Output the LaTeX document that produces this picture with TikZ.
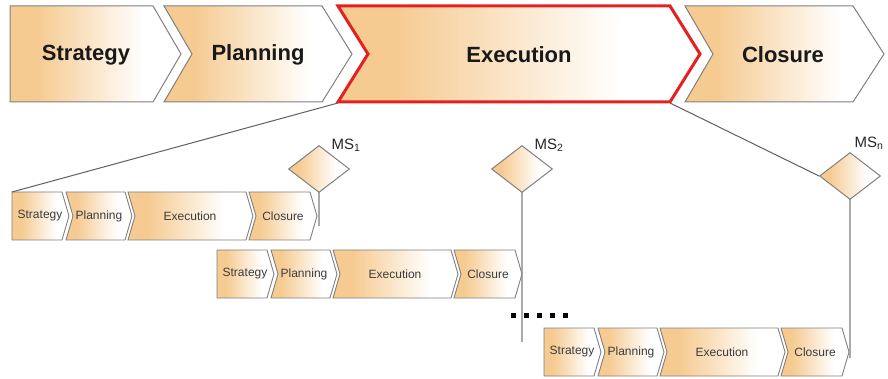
\documentclass[tikz,border=0pt]{standalone}
\usepackage{fontspec}
\setmainfont{Liberation Sans}
\usetikzlibrary{shapes.geometric}

\definecolor{chevor}{RGB}{246,203,146}
\definecolor{chevedge}{RGB}{128,128,128}
\definecolor{hilite}{RGB}{228,32,32}
\definecolor{linkgray}{RGB}{95,95,95}
\definecolor{stemgray}{RGB}{170,170,170}
\definecolor{subtext}{RGB}{60,60,60}

% orange on the left fading to white towards the right
\pgfdeclarehorizontalshading{chevfade}{100bp}{color(0bp)=(chevor); color(25bp)=(chevor); color(33bp)=(chevor); color(64bp)=(white); color(100bp)=(white)}

% #1 style, #2 left x, #3 top-right x, #4 top y, #5 bottom y, #6 tip depth, #7 notch depth
\newcommand{\drawchev}[7]{%
  \path[#1] (#2,#4) -- (#3,#4) -- ({#3+#6},{(#4+#5)/2}) -- (#3,#5) -- (#2,#5)
    -- ({#2+#7},{(#4+#5)/2}) -- cycle;}

% one small phase row, #1 x, #2 y of its top-left corner, #3 name prefix
\newcommand{\subrow}[3]{%
  \begin{scope}[shift={(#1,#2)}]
    \drawchev{smallbox}{0}{50}{0}{48}{7}{0}
    \drawchev{smallbox}{54}{113}{0}{48}{7}{7}
    \drawchev{smallbox}{116}{234}{0}{48}{7}{7}
    \drawchev{smallbox}{237}{298}{0}{48}{7}{7}
    \node[sublabel] (#3-s) at (28,24) {Strategy};
    \node[sublabel] (#3-p) at (87,24) {Planning};
    \node[sublabel] (#3-e) at (178,24) {Execution};
    \node[sublabel] (#3-c) at (271,24) {Closure};
    \coordinate (#3-nw) at (0,0);
    \coordinate (#3-tip) at (305,24);
  \end{scope}}

\tikzset{
  bigbox/.style={draw=chevedge, line width=1pt, shading=chevfade},
  execbox/.style={draw=hilite, line width=3pt, shading=chevfade},
  smallbox/.style={draw=chevedge, line width=0.9pt, shading=chevfade},
  toplabel/.style={font=\fontsize{22}{24}\selectfont\bfseries, text=black!90, inner sep=0pt},
  sublabel/.style={font=\fontsize{12}{14}\selectfont, text=subtext, inner sep=0pt},
  msdiamond/.style={diamond, draw=chevedge, line width=1pt, shading=chevfade,
    minimum width=61pt, minimum height=47pt, inner sep=0pt},
  mslabel/.style={font=\fontsize{15}{17}\selectfont, text=black!85, inner sep=0pt},
  zoomline/.style={draw=linkgray, line width=1pt},
  stem/.style={draw=stemgray, line width=1.5pt},
}

\begin{document}
\begin{tikzpicture}[x=1pt, y=-1pt]
  \useasboundingbox (0,0) rectangle (888,379);

  % main phase chain
  \drawchev{bigbox}{10}{153}{6}{102}{28}{0}
  \drawchev{bigbox}{164}{322}{6}{102}{30}{28}
  \drawchev{bigbox}{685}{853}{6}{102}{31}{28}
  \drawchev{execbox}{338}{670}{6}{102}{30}{30}
  \node[toplabel] (top-s) at (86,55) {Strategy};
  \node[toplabel] (top-p) at (258,55) {Planning};
  \node[toplabel] (top-e) at (519,55) {Execution};
  \node[toplabel] (top-c) at (783,55) {Closure};
  \coordinate (exec-sw) at (338,103);
  \coordinate (exec-se) at (670,103);

  % milestone centres and stem ends
  \coordinate (ms1-c) at (319,169);
  \coordinate (ms2-c) at (522,169);
  \coordinate (msn-c) at (850,176);
  \coordinate (ms1-end) at (319,226);
  \coordinate (ms2-end) at (522,342);
  \coordinate (msn-end) at (850,358);

  % stems, drawn before the diamonds so these cover them
  \draw[stem] (ms1-c) -- (ms1-end);
  \draw[stem] (ms2-c) -- (ms2-end);
  \draw[stem] (msn-c) -- (msn-end);

  % the sub-project rows
  \subrow{12}{192}{r1}
  \subrow{217}{250}{r2}
  \subrow{544}{328}{r3}

  % milestones
  \node[msdiamond] (ms1) at (ms1-c) {};
  \node[msdiamond] (ms2) at (ms2-c) {};
  \node[msdiamond] (msn) at (msn-c) {};
  \node[mslabel] (ms1-l) at (346,145) {MS\textsubscript{1}};
  \node[mslabel] (ms2-l) at (549,145) {MS\textsubscript{2}};
  \node[mslabel] (msn-l) at (869,143) {MS\textsubscript{n}};

  % zoom lines from the highlighted phase
  \draw[zoomline] (exec-sw) -- (r1-nw);
  \draw[zoomline] (exec-se) -- (msn.west);

  % continuation dots
  \foreach \i in {0,...,4}
    \fill[black] ({510.5+13*\i},312.5) rectangle ++(5,5);
\end{tikzpicture}
\end{document}
